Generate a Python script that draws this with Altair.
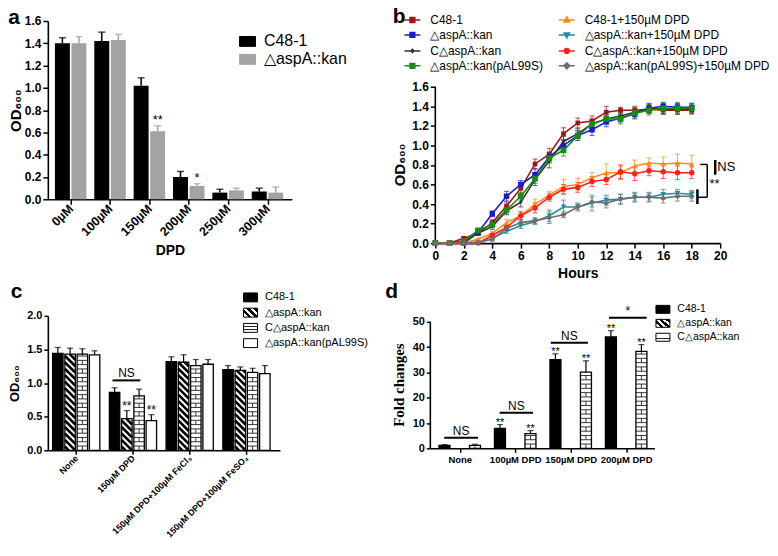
import altair as alt
import pandas as pd

FONT = "Arial"
SERIF = "Times New Roman"

# ---------------- panel a data ----------------
a_groups = ["0µM", "100µM", "150µM", "200µM", "250µM", "300µM"]
a_series = ["C48-1", "△aspA::kan"]
a_colors = ["#000000", "#a3a3a3"]
a_values = [[1.40, 1.42, 1.02, 0.20, 0.06, 0.07],
            [1.40, 1.43, 0.61, 0.12, 0.08, 0.06]]
a_errors = [[0.05, 0.08, 0.07, 0.05, 0.03, 0.03],
            [0.06, 0.05, 0.05, 0.02, 0.02, 0.05]]
a_marks = [["", "", "", "", "", ""],
           ["", "", "**", "*", "", ""]]

# ---------------- panel b data ----------------
b_hours = list(range(19))
b_series = ["C48-1", "△aspA::kan", "C△aspA::kan", "△aspA::kan(pAL99S)",
            "C48-1+150µM DPD", "△aspA::kan+150µM DPD",
            "C△aspA::kan+150µM DPD", "△aspA::kan(pAL99S)+150µM DPD"]
b_colors = ["#a31515", "#1a1ad4", "#333333", "#178c17",
            "#ff8c1a", "#2a8aa3", "#ff1f1f", "#6e6e6e"]
b_point_shapes = ["square", "square", "diamond", "square",
                  "triangle-up", "triangle-down", "circle", "diamond"]
b_point_sizes = [22, 30, 14, 34, 30, 30, 30, 34]
b_values = [
    [0, 0, 0.05, 0.10, 0.21, 0.38, 0.56, 0.81, 0.91, 1.12, 1.23, 1.25, 1.34, 1.36, 1.36, 1.37, 1.36, 1.36, 1.36],
    [0, 0, 0, 0.11, 0.30, 0.48, 0.60, 0.70, 0.88, 1.00, 1.10, 1.16, 1.24, 1.28, 1.32, 1.38, 1.40, 1.39, 1.39],
    [0, 0, 0.02, 0.10, 0.17, 0.33, 0.42, 0.65, 0.84, 1.04, 1.12, 1.22, 1.27, 1.30, 1.34, 1.38, 1.37, 1.37, 1.37],
    [0, 0, 0.02, 0.13, 0.19, 0.34, 0.48, 0.66, 0.87, 0.95, 1.10, 1.22, 1.27, 1.27, 1.33, 1.36, 1.38, 1.38, 1.38],
    [0, 0, 0, 0.04, 0.10, 0.21, 0.28, 0.40, 0.49, 0.58, 0.60, 0.67, 0.72, 0.72, 0.79, 0.82, 0.81, 0.82, 0.81],
    [0, 0, 0, 0, 0.05, 0.12, 0.18, 0.22, 0.28, 0.37, 0.37, 0.41, 0.44, 0.45, 0.47, 0.47, 0.50, 0.51, 0.50],
    [0, 0, 0, 0, 0.08, 0.16, 0.28, 0.36, 0.47, 0.55, 0.57, 0.63, 0.65, 0.73, 0.71, 0.74, 0.73, 0.72, 0.72],
    [0, 0, 0, 0.01, 0.04, 0.15, 0.21, 0.23, 0.26, 0.29, 0.37, 0.42, 0.41, 0.45, 0.47, 0.47, 0.46, 0.48, 0.48],
]
b_errors = [
    [0, 0, 0.01, 0.02, 0.03, 0.04, 0.05, 0.05, 0.06, 0.06, 0.05, 0.05, 0.06, 0.03, 0.04, 0.04, 0.04, 0.04, 0.04],
    [0, 0, 0, 0.02, 0.03, 0.05, 0.04, 0.06, 0.05, 0.05, 0.05, 0.06, 0.05, 0.04, 0.04, 0.05, 0.04, 0.04, 0.04],
    [0, 0, 0.01, 0.02, 0.03, 0.04, 0.05, 0.06, 0.07, 0.05, 0.05, 0.04, 0.04, 0.04, 0.04, 0.04, 0.05, 0.05, 0.04],
    [0, 0, 0.01, 0.02, 0.03, 0.04, 0.04, 0.05, 0.05, 0.06, 0.05, 0.05, 0.04, 0.05, 0.06, 0.05, 0.05, 0.06, 0.05],
    [0, 0, 0, 0.01, 0.02, 0.03, 0.04, 0.05, 0.04, 0.07, 0.06, 0.05, 0.09, 0.07, 0.06, 0.05, 0.07, 0.09, 0.09],
    [0, 0, 0, 0.01, 0.02, 0.02, 0.03, 0.03, 0.06, 0.07, 0.04, 0.08, 0.05, 0.05, 0.04, 0.04, 0.05, 0.04, 0.04],
    [0, 0, 0, 0.01, 0.02, 0.03, 0.04, 0.05, 0.04, 0.05, 0.05, 0.05, 0.05, 0.07, 0.07, 0.05, 0.07, 0.07, 0.06],
    [0, 0, 0, 0.01, 0.02, 0.02, 0.03, 0.03, 0.06, 0.03, 0.03, 0.05, 0.05, 0.05, 0.05, 0.05, 0.05, 0.05, 0.05],
]
b_ann_rules = [
    {"x": 19.09, "x2": 19.09, "y": 0.805, "y2": 0.469, "w": 1.5},
    {"x": 18.60, "x2": 19.09, "y": 0.805, "y2": 0.805, "w": 1.5},
    {"x": 18.40, "x2": 19.09, "y": 0.469, "y2": 0.469, "w": 1.5},
    {"x": 18.40, "x2": 18.40, "y": 0.40, "y2": 0.55, "w": 2.5},
    {"x": 19.65, "x2": 19.65, "y": 0.70, "y2": 0.85, "w": 2.5},
]
b_ann_text = [{"x": 19.80, "y": 0.775, "t": "NS"}, {"x": 19.25, "y": 0.60, "t": "**"}]

# ---------------- panel c data ----------------
c_groups = ["None", "150µM DPD", "150µM DPD+100µM FeCl₃", "150µM DPD+100µM FeSO₄"]
c_series = ["C48-1", "△aspA::kan", "C△aspA::kan", "△aspA::kan(pAL99S)"]
c_fills = ["#000000", "#ffffff", "#ffffff", "#ffffff"]
c_values = [[1.44, 0.86, 1.32, 1.20],
            [1.43, 0.47, 1.31, 1.19],
            [1.43, 0.81, 1.26, 1.16],
            [1.42, 0.44, 1.28, 1.14]]
c_errors = [[0.09, 0.07, 0.07, 0.06],
            [0.09, 0.12, 0.11, 0.05],
            [0.08, 0.10, 0.09, 0.06],
            [0.06, 0.09, 0.07, 0.12]]
c_marks = [["", "", "", ""], ["", "**", "", ""], ["", "", "", ""], ["", "**", "", ""]]
c_ns = [{"x": 0.64, "x2": 1.13, "y": 1.04, "t": "NS"}]

# ---------------- panel d data ----------------
d_groups = ["None", "100µM DPD", "150µM DPD", "200µM DPD"]
d_series = ["C48-1", "△aspA::kan", "C△aspA::kan"]
d_fills = ["#000000", "#ffffff", "#ffffff"]
d_values = [[1.2, 7.9, 35.0, 44.0],
            [None, None, None, None],
            [1.2, 5.8, 30.1, 38.3]]
d_errors = [[0.3, 1.5, 2.3, 2.5],
            [0, 0, 0, 0],
            [0.4, 1.2, 4.5, 2.7]]
d_marks = [["", "**", "**", "**"], ["", "", "", ""], ["", "**", "**", "**"]]
d_ns = [{"x": -0.28, "x2": 0.33, "y": 4.2, "t": "NS"},
        {"x": 0.72, "x2": 1.32, "y": 14.1, "t": "NS"},
        {"x": 1.64, "x2": 2.31, "y": 41.7, "t": "NS"},
        {"x": 2.69, "x2": 3.37, "y": 51.6, "t": "*"}]


# ---------------- helpers ----------------
def bar_table(series, values, errors, marks, offsets, half):
    rows = []
    for si, s in enumerate(series):
        for gi, v in enumerate(values[si]):
            if v is None:
                continue
            e = errors[si][gi]
            p = gi + offsets[si]
            rows.append({"series": s, "pos": p, "lo": p - half, "hi": p + half,
                         "value": v, "zero": 0.0, "top": v + e, "mark": marks[si][gi]})
    return pd.DataFrame(rows)


def stripe_segments(df, name, kx, ky, step):
    segs = []
    for r in df[df.series == name].itertuples():
        w = (r.hi - r.lo) * kx
        H = r.value * ky
        c = step * 0.6
        while c < H + w:
            u1 = max(0.0, c - H)
            u2 = min(w, c)
            if u2 - u1 > 1.0:
                segs.append({"x": r.lo + u1 / kx, "y": (c - u1) / ky,
                             "x2": r.lo + u2 / kx, "y2": (c - u2) / ky})
            c += step
    return pd.DataFrame(segs)


def brick_segments(df, name, ky, row_px):
    segs = []
    for r in df[df.series == name].itertuples():
        H = r.value * ky
        k = 0
        while k * row_px < H - 1.0:
            t0 = k * row_px
            t1 = min((k + 1) * row_px, H)
            if (k + 1) * row_px < H - 1.0:
                segs.append({"x": r.lo, "x2": r.hi, "y": t1 / ky, "y2": t1 / ky})
            if k % 2 == 0:
                xc = (r.lo + r.hi) / 2
                segs.append({"x": xc, "x2": xc, "y": t0 / ky, "y2": t1 / ky})
            k += 1
    return pd.DataFrame(segs)


def label_expr(names):
    return "[" + ",".join("'" + n + "'" for n in names) + "][round(datum.value)]"


def qx(field, dom, axis):
    return alt.X(field, type="quantitative", scale=alt.Scale(domain=dom, nice=False, zero=False), axis=axis)


def qy(field, dom, axis):
    return alt.Y(field, type="quantitative", scale=alt.Scale(domain=dom, nice=False, zero=False), axis=axis)


def letter(t, dx=0, dy=0):
    return alt.TitleParams(t, anchor="start", frame="bounds", fontSize=21, fontWeight="bold",
                           font=FONT, color="black", dx=dx, dy=dy, offset=2)


def rect_legend(x, y, size, path, fs, row_pad, offset):
    return alt.Legend(orient="none", legendX=x, legendY=y, title=None, symbolType=path, symbolSize=size,
                      labelFontSize=fs, labelFont=FONT, labelColor="black", labelOffset=offset,
                      rowPadding=row_pad, labelLimit=400, symbolStrokeColor="black",
                      symbolStrokeWidth=1, symbolOpacity=1)


# pattern gradients (used only for legend swatches)
STRIPE_EXPR = ("{gradient: 'linear', x1: 0, y1: 0.643, x2: 1, y2: 0, stops: ["
               "{offset: 0, color: 'white'}, {offset: 0.08, color: 'white'},"
               "{offset: 0.08, color: 'black'}, {offset: 0.26, color: 'black'},"
               "{offset: 0.26, color: 'white'}, {offset: 0.42, color: 'white'},"
               "{offset: 0.42, color: 'black'}, {offset: 0.60, color: 'black'},"
               "{offset: 0.60, color: 'white'}, {offset: 0.76, color: 'white'},"
               "{offset: 0.76, color: 'black'}, {offset: 0.94, color: 'black'},"
               "{offset: 0.94, color: 'white'}, {offset: 1, color: 'white'}]}")
BRICK_EXPR = ("{gradient: 'linear', x1: 0, y1: 0, x2: 0, y2: 1, stops: ["
              "{offset: 0, color: 'white'}, {offset: 0.28, color: 'white'},"
              "{offset: 0.28, color: '#222222'}, {offset: 0.40, color: '#222222'},"
              "{offset: 0.40, color: 'white'}, {offset: 0.60, color: 'white'},"
              "{offset: 0.60, color: '#222222'}, {offset: 0.72, color: '#222222'},"
              "{offset: 0.72, color: 'white'}, {offset: 1, color: 'white'}]}")


def legend_layer(series, xdom, ydom, xaxis, yaxis, legend, path, size):
    n = len(series)
    ldf = pd.DataFrame({"series": series, "lx": [xdom[0] - 10] * n, "ly": [ydom[0] - 10] * n})
    rng = ["black", {"expr": STRIPE_EXPR}, {"expr": BRICK_EXPR}, "white"][:n]
    return alt.Chart(ldf).mark_point(filled=True, shape=path, size=size, strokeWidth=1, opacity=1,
                                     clip=True).encode(
        x=qx("lx", xdom, xaxis), y=qy("ly", ydom, yaxis),
        fill=alt.Fill("series:N", scale=alt.Scale(domain=series, range=rng), legend=legend),
        stroke=alt.Stroke("series:N", scale=alt.Scale(domain=series, range=["black"] * n), legend=legend))


def axis_line(xpos, ytop, xdom, ydom, xaxis, yaxis):
    df = pd.DataFrame({"x": [xpos], "y": [0.0], "y2": [ytop]})
    return alt.Chart(df).mark_rule(color="black", strokeWidth=1.6).encode(
        x=qx("x", xdom, xaxis), y=qy("y", ydom, yaxis), y2="y2:Q")


# ======================= panel a =======================
A_W, A_H = 245, 179
a_xdom = [-0.58, 5.62]
a_df = bar_table(a_series, a_values, a_errors, a_marks, [-0.21, 0.21], 0.19)
a_xaxis = alt.Axis(values=list(range(6)), labelExpr=label_expr(a_groups), labelAngle=-45,
                   labelAlign="right", labelBaseline="middle", labelFontSize=12.5, title="DPD",
                   titleFontSize=14, titlePadding=6, labelFlush=False, labelOverlap=False)
a_yaxis = alt.Axis(values=[0, 0.2, 0.4, 0.6, 0.8, 1.0, 1.2, 1.4, 1.6], format=".1f", labelFontSize=12,
                   title="OD₆₀₀", titleFontSize=15, titlePadding=1, labelFlush=False, labelOverlap=False)
a_fill = alt.Fill("series:N", scale=alt.Scale(domain=a_series, range=a_colors),
                  legend=rect_legend(192, 12, 256, "M-1,-0.62H1V0.62H-1Z", 16, 1, 8))
a_stroke = alt.Stroke("series:N", scale=alt.Scale(domain=a_series, range=a_colors), legend=None)
a_bars = alt.Chart(a_df).mark_rect().encode(
    x=qx("lo", a_xdom, a_xaxis), x2="hi:Q", y=qy("value", [0, 1.6], a_yaxis), y2="zero:Q", fill=a_fill)
a_err = alt.Chart(a_df).mark_rule(strokeWidth=1.5).encode(
    x=qx("pos", a_xdom, a_xaxis), y=qy("value", [0, 1.6], a_yaxis), y2="top:Q", stroke=a_stroke)
a_cap = alt.Chart(a_df).mark_tick(orient="horizontal", size=7, thickness=1.5).encode(
    x=qx("pos", a_xdom, a_xaxis), y=qy("top", [0, 1.6], a_yaxis),
    color=alt.Color("series:N", scale=alt.Scale(domain=a_series, range=a_colors), legend=None))
a_txt = alt.Chart(a_df).mark_text(baseline="bottom", dy=1, fontSize=13, font=FONT, color="black").encode(
    x=qx("pos", a_xdom, a_xaxis), y=qy("top", [0, 1.6], a_yaxis), text="mark:N")
panel_a = alt.layer(a_bars, a_err, a_cap, a_txt).properties(
    width=A_W, height=A_H, title=letter("a", dx=0, dy=15))

# ======================= panel b =======================
# plot area spans the legend band too; the y scale keeps 157 px per 1.6 units
B_W, B_H = 286, 223
b_ydom = [0, 1.6 * 223 / 157]
b_rows = []
for si, s in enumerate(b_series):
    for t, v, e in zip(b_hours, b_values[si], b_errors[si]):
        b_rows.append({"series": s, "t": t, "value": v, "lo": max(v - e, 0), "hi": v + e})
b_df = pd.DataFrame(b_rows)

sq = "M-1,0H1M-0.3,-0.3H0.3V0.3H-0.3Z"
small = "M-1,0H1M0,-0.2L0.2,0L0,0.2L-0.2,0Z"
tri_up = "M-1,0H1M0,-0.38L0.34,0.24H-0.34Z"
tri_dn = "M-1,0H1M0,0.38L0.34,-0.24H-0.34Z"
circ = "M-1,0H1M0.3,0A0.3,0.3,0,1,1,-0.3,0A0.3,0.3,0,1,1,0.3,0Z"
dia = "M-1,0H1M0,-0.38L0.38,0L0,0.38L-0.38,0Z"
b_legend_paths = [sq, sq, small, sq, tri_up, tri_dn, circ, dia]

b_legend = alt.Legend(
    orient="none", legendX=-32, legendY=-10, columns=2, columnPadding=12, rowPadding=0, title=None,
    labelFontSize=12, labelFont=FONT, labelColor="black", labelOffset=9, labelLimit=400,
    symbolSize=256, symbolStrokeWidth=1.5, symbolOpacity=1)
b_color = alt.Color("series:N", scale=alt.Scale(domain=b_series, range=b_colors), legend=b_legend)
b_xaxis = alt.Axis(values=list(range(0, 21, 2)), labelFontSize=12, title="Hours", titleFontSize=14,
                   titlePadding=6, labelFlush=False, labelOverlap=False, format="d")
b_yaxis = alt.Axis(values=[0, 0.2, 0.4, 0.6, 0.8, 1.0, 1.2, 1.4, 1.6], format=".1f", labelFontSize=12,
                   title="OD₆₀₀", titleFontSize=15, titlePadding=4, labelFlush=False, labelOverlap=False,
                   domain=False, titleY=144)
b_x = qx("t", [0, 20], b_xaxis)

b_ldf = pd.DataFrame({"series": b_series, "t": [-5.0] * 8, "value": [-1.0] * 8})
b_leg = alt.Chart(b_ldf).mark_point(filled=True, size=256, strokeWidth=1.5, opacity=1, clip=True).encode(
    x=b_x, y=qy("value", b_ydom, b_yaxis), color=b_color,
    stroke=alt.Stroke("series:N", scale=alt.Scale(domain=b_series, range=b_colors), legend=b_legend),
    shape=alt.Shape("series:N", scale=alt.Scale(domain=b_series, range=b_legend_paths), legend=b_legend))
b_axl = axis_line(0, 1.6, [0, 20], b_ydom, b_xaxis, b_yaxis)
b_err = alt.Chart(b_df).mark_rule(strokeWidth=1, opacity=0.75).encode(
    x=b_x, y=qy("lo", b_ydom, b_yaxis), y2="hi:Q", color=b_color)
b_caplo = alt.Chart(b_df).mark_tick(orient="horizontal", size=5, thickness=1, opacity=0.75).encode(
    x=b_x, y=qy("lo", b_ydom, b_yaxis), color=b_color)
b_caphi = alt.Chart(b_df).mark_tick(orient="horizontal", size=5, thickness=1, opacity=0.75).encode(
    x=b_x, y=qy("hi", b_ydom, b_yaxis), color=b_color)
b_line = alt.Chart(b_df).mark_line(strokeWidth=1.6).encode(
    x=b_x, y=qy("value", b_ydom, b_yaxis), color=b_color)
b_pts = []
for s, shp, sz in zip(b_series, b_point_shapes, b_point_sizes):
    b_pts.append(alt.Chart(b_df).transform_filter(alt.datum.series == s).mark_point(
        filled=True, shape=shp, size=sz, opacity=1).encode(
        x=b_x, y=qy("value", b_ydom, b_yaxis), color=b_color))
b_ann = alt.Chart(pd.DataFrame(b_ann_rules)).mark_rule(color="black").encode(
    x=qx("x", [0, 20], b_xaxis), x2="x2:Q", y=qy("y", b_ydom, b_yaxis), y2="y2:Q",
    strokeWidth=alt.StrokeWidth("w:Q", scale=None))
b_ann_t = alt.Chart(pd.DataFrame(b_ann_text)).mark_text(align="left", baseline="middle", fontSize=13,
                                                        font=FONT, color="black").encode(
    x=qx("x", [0, 20], b_xaxis), y=qy("y", b_ydom, b_yaxis), text="t:N")
panel_b = alt.layer(b_leg, b_axl, b_err, b_caplo, b_caphi, b_line, *b_pts, b_ann, b_ann_t).properties(
    width=B_W, height=B_H, title=letter("b", dx=0, dy=18))

# ======================= panel c =======================
C_W, C_H = 233, 135
c_xdom = [-0.5, 3.59]
c_kx = C_W / (c_xdom[1] - c_xdom[0])
c_ky = C_H / 2.0
c_df = bar_table(c_series, c_values, c_errors, c_marks, [-0.324, -0.108, 0.108, 0.324], 0.092)
c_str = stripe_segments(c_df, "△aspA::kan", c_kx, c_ky, 6.5)
c_brk = brick_segments(c_df, "C△aspA::kan", c_ky, 4.3)
c_xaxis = alt.Axis(values=[0, 1, 2, 3], labelExpr=label_expr(c_groups), labelAngle=-45,
                   labelAlign="right", labelBaseline="middle", labelFontSize=9, title=None,
                   labelFlush=False, labelOverlap=False, tickSize=4)
c_yaxis = alt.Axis(values=[0, 0.5, 1.0, 1.5, 2.0], format=".1f", labelFontSize=11, title="OD₆₀₀",
                   titleFontSize=13, titlePadding=5, labelFlush=False, labelOverlap=False, tickSize=4)
c_leg = legend_layer(c_series, c_xdom, [0, 2], c_xaxis, c_yaxis,
                     rect_legend(196, -26, 196, "M-1,-0.64H1V0.64H-1Z", 11, 1.3, 7),
                     "M-1,-0.64H1V0.64H-1Z", 196)
c_color = alt.Color("series:N", scale=alt.Scale(domain=c_series, range=c_fills), legend=None)
c_bars = alt.Chart(c_df).mark_rect().encode(
    x=qx("lo", c_xdom, c_xaxis), x2="hi:Q", y=qy("value", [0, 2], c_yaxis), y2="zero:Q", color=c_color)
c_s = alt.Chart(c_str).mark_rule(strokeWidth=2.6, color="black").encode(
    x=qx("x", c_xdom, c_xaxis), x2="x2:Q", y=qy("y", [0, 2], c_yaxis), y2="y2:Q")
c_b = alt.Chart(c_brk).mark_rule(strokeWidth=0.9, color="#222222").encode(
    x=qx("x", c_xdom, c_xaxis), x2="x2:Q", y=qy("y", [0, 2], c_yaxis), y2="y2:Q")
c_out = alt.Chart(c_df).mark_rect(fillOpacity=0, stroke="black", strokeWidth=1.3).encode(
    x=qx("lo", c_xdom, c_xaxis), x2="hi:Q", y=qy("value", [0, 2], c_yaxis), y2="zero:Q")
c_err = alt.Chart(c_df).mark_rule(color="black", strokeWidth=1.2).encode(
    x=qx("pos", c_xdom, c_xaxis), y=qy("value", [0, 2], c_yaxis), y2="top:Q")
c_cap = alt.Chart(c_df).mark_tick(orient="horizontal", size=6, thickness=1.2, color="black").encode(
    x=qx("pos", c_xdom, c_xaxis), y=qy("top", [0, 2], c_yaxis))
c_txt = alt.Chart(c_df).mark_text(baseline="bottom", dy=2, fontSize=12, font=FONT, color="black").encode(
    x=qx("pos", c_xdom, c_xaxis), y=qy("top", [0, 2], c_yaxis), text="mark:N")
c_nsdf = pd.DataFrame(c_ns)
c_nsdf["xm"] = (c_nsdf.x + c_nsdf.x2) / 2
c_nsl = alt.Chart(c_nsdf).mark_rule(strokeWidth=2, color="black").encode(
    x=qx("x", c_xdom, c_xaxis), x2="x2:Q", y=qy("y", [0, 2], c_yaxis))
c_nst = alt.Chart(c_nsdf).mark_text(baseline="bottom", dy=0, fontSize=12, font=FONT, color="black").encode(
    x=qx("xm", c_xdom, c_xaxis), y=qy("y", [0, 2], c_yaxis), text="t:N")
panel_c = alt.layer(c_leg, c_bars, c_s, c_b, c_out, c_err, c_cap, c_txt, c_nsl, c_nst).properties(
    width=C_W, height=C_H, title=letter("c", dx=2, dy=14))

# ======================= panel d =======================
# plot area starts level with panel c; the y scale keeps 127 px per 50 units
D_W, D_H = 225, 133
d_ydom = [0, 50 * 133 / 127]
d_xdom = [-0.53, 3.51]
d_ky = D_H / d_ydom[1]
d_df = bar_table(d_series, d_values, d_errors, d_marks, [-0.275, 0.0, 0.275], 0.099)
d_brk = brick_segments(d_df, "C△aspA::kan", d_ky, 4.3)
d_xaxis = alt.Axis(values=[0, 1, 2, 3], labelExpr=label_expr(d_groups), labelAngle=0, labelFontSize=9.5,
                   title=None, labelFlush=False, labelOverlap=False, tickSize=4)
d_yaxis = alt.Axis(values=[0, 10, 20, 30, 40, 50], format="d", labelFontSize=11, title="Fold changes",
                   titleFont=SERIF, titleFontSize=15, titlePadding=6, labelFlush=False,
                   labelOverlap=False, tickSize=4, domain=False, titleY=69)
d_leg = legend_layer(d_series, d_xdom, d_ydom, d_xaxis, d_yaxis,
                     rect_legend(226, -14, 196, "M-1,-0.57H1V0.57H-1Z", 10.5, 0, 7),
                     "M-1,-0.57H1V0.57H-1Z", 196)
d_axl = axis_line(d_xdom[0], 50, d_xdom, d_ydom, d_xaxis, d_yaxis)
d_color = alt.Color("series:N", scale=alt.Scale(domain=d_series, range=d_fills), legend=None)
d_bars = alt.Chart(d_df).mark_rect().encode(
    x=qx("lo", d_xdom, d_xaxis), x2="hi:Q", y=qy("value", d_ydom, d_yaxis), y2="zero:Q", color=d_color)
d_b = alt.Chart(d_brk).mark_rule(strokeWidth=0.9, color="#222222").encode(
    x=qx("x", d_xdom, d_xaxis), x2="x2:Q", y=qy("y", d_ydom, d_yaxis), y2="y2:Q")
d_out = alt.Chart(d_df).mark_rect(fillOpacity=0, stroke="black", strokeWidth=1.3).encode(
    x=qx("lo", d_xdom, d_xaxis), x2="hi:Q", y=qy("value", d_ydom, d_yaxis), y2="zero:Q")
d_err = alt.Chart(d_df).mark_rule(color="black", strokeWidth=1.2).encode(
    x=qx("pos", d_xdom, d_xaxis), y=qy("value", d_ydom, d_yaxis), y2="top:Q")
d_cap = alt.Chart(d_df).mark_tick(orient="horizontal", size=6, thickness=1.2, color="black").encode(
    x=qx("pos", d_xdom, d_xaxis), y=qy("top", d_ydom, d_yaxis))
d_txt = alt.Chart(d_df).mark_text(baseline="bottom", dy=3, fontSize=11, font=FONT, color="black").encode(
    x=qx("pos", d_xdom, d_xaxis), y=qy("top", d_ydom, d_yaxis), text="mark:N")
d_nsdf = pd.DataFrame(d_ns)
d_nsdf["xm"] = (d_nsdf.x + d_nsdf.x2) / 2
d_nsl = alt.Chart(d_nsdf).mark_rule(strokeWidth=2, color="black").encode(
    x=qx("x", d_xdom, d_xaxis), x2="x2:Q", y=qy("y", d_ydom, d_yaxis))
d_nst = alt.Chart(d_nsdf).mark_text(baseline="bottom", dy=0, fontSize=12, font=FONT, color="black").encode(
    x=qx("xm", d_xdom, d_xaxis), y=qy("y", d_ydom, d_yaxis), text="t:N")
panel_d = alt.layer(d_leg, d_axl, d_bars, d_b, d_out, d_err, d_cap, d_txt, d_nsl, d_nst).properties(
    width=D_W, height=D_H, title=letter("d", dx=-6, dy=2))

# ======================= layout =======================
IND = dict(color="independent", fill="independent", stroke="independent", shape="independent")
row1 = alt.concat(panel_a, panel_b, columns=2, align="none", spacing=45).resolve_scale(**IND)
row2 = alt.concat(panel_c, panel_d, columns=2, align="none", spacing=16).resolve_scale(**IND)
chart = alt.concat(row1, row2, columns=1, align="none", spacing=0).resolve_scale(**IND).properties(
    padding={"left": 0, "top": -3, "right": 0, "bottom": 0}, background="white"
).configure_axis(
    domainColor="black", domainWidth=1.6, tickColor="black", tickWidth=1.5, tickSize=5,
    labelFont=FONT, labelFontWeight="bold", labelColor="black", labelPadding=2,
    titleFont=FONT, titleFontWeight="bold", titleColor="black", grid=False
).configure_view(strokeWidth=0).configure_legend(labelFont=FONT, labelColor="black").configure_text(font=FONT)

chart.save("out.html", embed_options={"renderer": "svg", "actions": False})
